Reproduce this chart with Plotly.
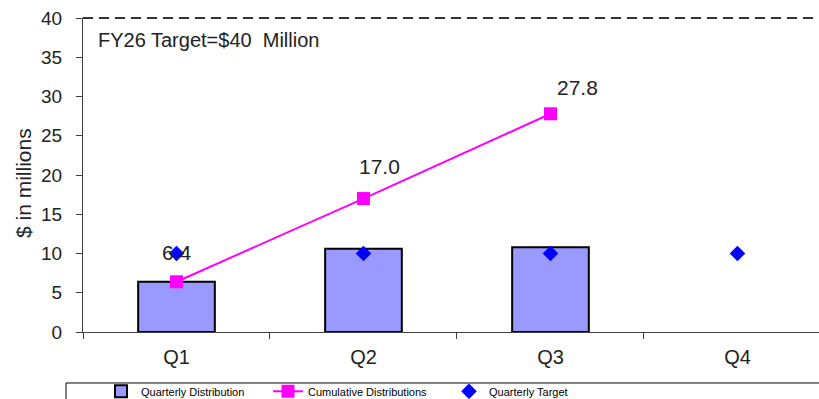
import plotly.graph_objects as go

# ---- data ----
quarters = ["Q1", "Q2", "Q3", "Q4"]
quarterly_distribution = [6.4, 10.6, 10.8, None]
cumulative_distributions = [6.4, 17.0, 27.8, None]
quarterly_target = [10, 10, 10, 10]
fy_target = 40
fy_label = "FY26 Target=$40  Million"
y_ticks = [0, 5, 10, 15, 20, 25, 30, 35, 40]

# ---- style ----
label_xshift = [0, 16, 27]
label_yshift = [29, 32, 26]
axis_color = "#404040"
text_color = "#222222"
font_main = "Liberation Sans, Arial, sans-serif"

fig = go.Figure()

fig.add_trace(go.Bar(
    x=quarters, y=quarterly_distribution, name="Quarterly Distribution",
    marker=dict(color="#9999FF", line=dict(color="#000000", width=2)),
    legendwidth=87,
))
fig.add_trace(go.Scatter(
    x=quarters, y=cumulative_distributions, name="Cumulative Distributions",
    mode="lines+markers",
    line=dict(color="#FF00FF", width=2),
    marker=dict(symbol="square", size=13, color="#FF00FF"),
    legendwidth=101,
))
fig.add_trace(go.Scatter(
    x=quarters, y=quarterly_target, name="Quarterly Target",
    mode="markers",
    marker=dict(symbol="diamond", size=12, color="#0000FF"),
    legendwidth=200,
))

annotations = []
for i, (q, v) in enumerate(zip(quarters, cumulative_distributions)):
    if v is None:
        continue
    annotations.append(dict(
        x=q, y=v, xref="x", yref="y", text=f"{v:.1f}", showarrow=False,
        xshift=label_xshift[i], yshift=label_yshift[i],
        font=dict(family=font_main, size=21, color=text_color),
    ))
annotations.append(dict(
    x=0.0177, y=0.93, xref="paper", yref="paper", text=fy_label,
    showarrow=False, xanchor="left", yanchor="middle",
    font=dict(family=font_main, size=20, color=text_color),
))
annotations.append(dict(
    x=-0.0815, y=0.4745, xref="paper", yref="paper", text="$ in millions",
    showarrow=False, textangle=-90, xanchor="center", yanchor="middle",
    font=dict(family=font_main, size=21, color=text_color),
))

fig.update_layout(
    width=819, height=399,
    margin=dict(l=83, r=0, t=18, b=67, autoexpand=False),
    paper_bgcolor="white", plot_bgcolor="white",
    bargap=0.59,
    showlegend=True,
    legend=dict(
        orientation="h", x=-0.0231, y=-0.1425, xanchor="left", yanchor="top",
        bgcolor="rgba(0,0,0,0)", borderwidth=0, indentation=35,
        font=dict(family=font_main, size=11, color="#000000"),
        itemsizing="trace", traceorder="normal",
    ),
    annotations=annotations,
    shapes=[
        dict(
            type="line", xref="paper", yref="paper", x0=0, x1=1, y0=1, y1=1,
            line=dict(color="#333333", width=2, dash="10px,6px"),
        ),
        dict(
            type="rect", xref="paper", yref="paper",
            x0=-0.0231, x1=1.02, y0=-0.1624, y1=-0.3,
            line=dict(color="#000000", width=1), fillcolor="rgba(0,0,0,0)",
        ),
    ],
    xaxis=dict(
        type="category", range=[-0.5, 3.436],
        showline=True, linecolor=axis_color, linewidth=1,
        ticks="outside", tickson="boundaries", ticklen=6, tickcolor=axis_color,
        ticklabelstandoff=7,
        tickfont=dict(family=font_main, size=20, color=text_color),
        showgrid=False, zeroline=False,
    ),
    yaxis=dict(
        range=[0, fy_target], tickvals=y_ticks,
        showline=True, linecolor=axis_color, linewidth=1,
        ticks="outside", ticklen=6, tickcolor=axis_color,
        ticklabelstandoff=10,
        tickfont=dict(family=font_main, size=19, color=text_color),
        showgrid=False, zeroline=False,
    ),
)

fig.write_html(
    "out.html",
    config={"displayModeBar": False},
    post_script="document.body.style.margin='0';document.body.style.overflow='hidden';",
)
